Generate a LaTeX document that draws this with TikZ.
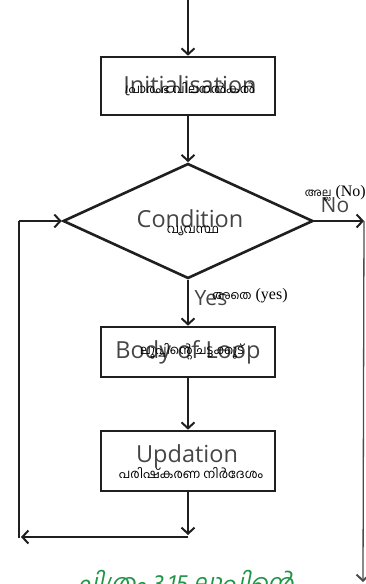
\documentclass[tikz,border=0pt]{standalone}
\usepackage{fontspec}
\setmainfont{Liberation Serif}
\newfontfamily\engsans{Open Sans}
\newfontfamily\mlfont[Script=Malayalam]{Hind Kochi}
\newfontfamily\mlslant[Script=Malayalam,FakeSlant=0.2]{Hind Kochi}
\usetikzlibrary{shapes.geometric,arrows.meta}
\definecolor{labelgray}{HTML}{454545}
\definecolor{capgreen}{HTML}{1E9645}
\begin{document}
\begin{tikzpicture}[x=1pt,y=-1pt,
  flowline/.style={line width=2.6pt,draw=black!88},
  thinline/.style={line width=1.3pt,draw=black!70},
  tip/.style={-{Straight Barb[length=6pt,width=13pt,line width=2pt]}},
  stepbox/.style={draw=black!88,line width=2.6pt,minimum width=174pt,inner sep=0pt},
  decision/.style={diamond,draw=black!88,line width=2.6pt,minimum width=250pt,minimum height=115pt,inner sep=0pt},
  engtext/.style={font=\engsans\fontsize{23.5}{23.5}\selectfont,text=labelgray,inner sep=0pt},
  answer/.style={font=\engsans\fontsize{21}{21}\selectfont,text=labelgray,inner sep=0pt},
  mltext/.style={font=\mlfont\fontsize{12.5}{12.5}\selectfont,text=black,inner sep=0pt},
  mixtext/.style={font=\fontsize{16}{16}\selectfont,text=black,inner sep=0pt}]
\useasboundingbox (0,0) rectangle (366,584);

% boxes and decision
\node[stepbox,minimum height=58pt] (init) at (188,86) {};
\node[decision] (cond) at (188,221) {};
\node[stepbox,minimum height=50pt] (body) at (188,352) {};
\node[stepbox,minimum height=60pt] (upd) at (188,461) {};

% English labels with Malayalam overlays
\node[engtext] (tinit) at (190,85) {Initialisation};
\node[mltext] (minit) at (190,89) {പ്രാരംഭ വിലനൽകൽ};
\node[engtext] (tcond) at (190,219) {Condition};
\node[mltext] (mcond) at (193,231) {വ്യവസ്ഥ};
\node[engtext] (tbody) at (188,352) {Body of Loop};
\node[mltext] (mbody) at (192,352) {ലൂപ്പിന്റെ ചട്ടക്കൂട്};
\node[engtext] (tupd) at (187,456) {Updation};
\node[mltext] (mupd) at (191,473) {പരിഷ്കരണ നിർദേശം};

% branch labels
\node[answer] (tno) at (335,205) {No};
\node[mixtext,anchor=east] (mno) at (366,193) {{\mlfont\fontsize{11}{11}\selectfont അല്ല} (No)};
\node[answer] (tyes) at (211,298) {Yes};
\node[mixtext,anchor=west] (myes) at (212,296) {{\mlfont\fontsize{12}{12}\selectfont അതെ} (yes)};

% coordinates for the loop and exit paths
\coordinate (entry) at (188,0);
\coordinate (exitR) at (364,221);
\coordinate (exitEnd) at (363,582);
\coordinate (loopJoin) at (188,535);
\coordinate (loopRight) at (188,537);
\coordinate (loopLeft) at (21,537);
\coordinate (loopCorner) at (19,538);
\coordinate (loopTop) at (19,221);

% main flow
\draw[flowline,tip] (entry) -- (init.north);
\draw[flowline,tip] (init.south) -- (cond.north);
\draw[flowline,tip] (cond.south) -- (body.north);
\draw[flowline,tip] (body.south) -- (upd.north);
\draw[flowline,tip] (upd.south) -- (loopJoin);
\draw[flowline,tip] (loopRight) -- (loopLeft);
\draw[flowline] (loopCorner) -- (loopTop);
\draw[flowline,tip] (loopTop) -- (cond.west);

% exit path
\draw[flowline,tip] (cond.east) -- (exitR);
\draw[thinline,tip] (exitR) -- (exitEnd);

% caption
\node[font=\mlslant\fontsize{24}{24}\selectfont,text=capgreen,inner sep=0pt] (cap) at (185,586) {ചിത്രം 3.15 ലൂപ്പിന്റെ};
\end{tikzpicture}
\end{document}
